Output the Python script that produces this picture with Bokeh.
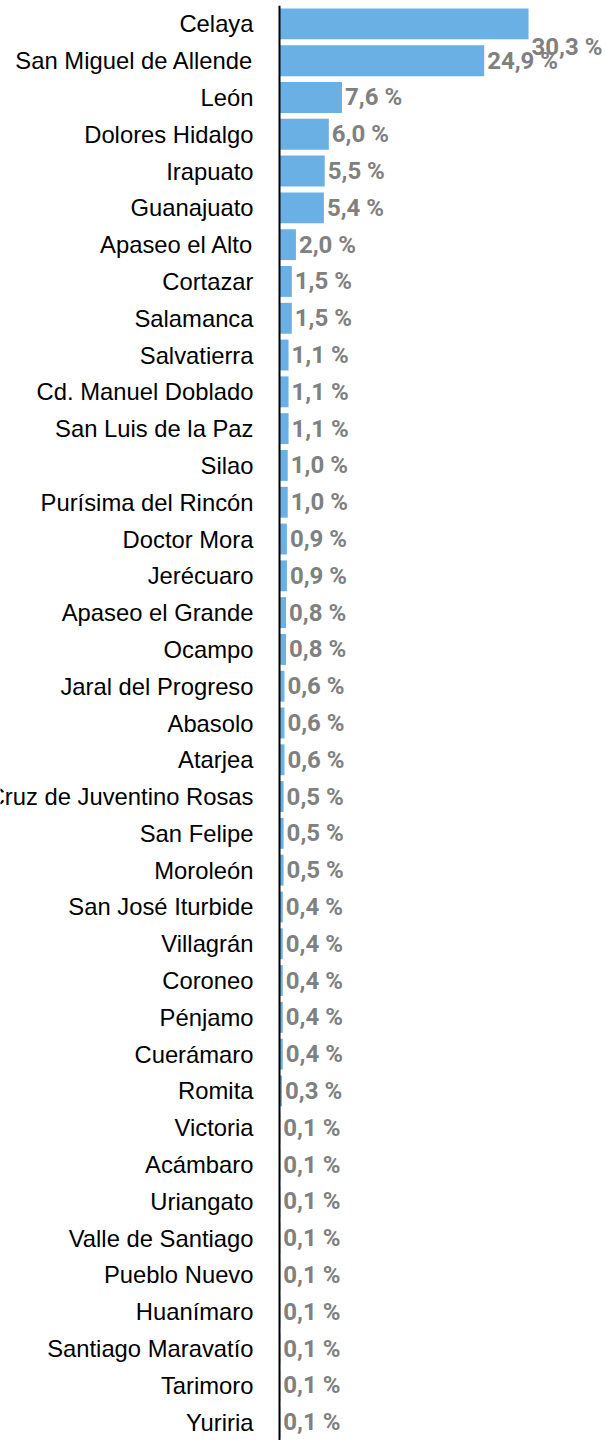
from bokeh.plotting import figure
from bokeh.models import ColumnDataSource, Span
from bokeh.core.properties import value
from bokeh.embed import file_html
from bokeh.resources import INLINE

municipios = [
    "Celaya", "San Miguel de Allende", "León", "Dolores Hidalgo", "Irapuato",
    "Guanajuato", "Apaseo el Alto", "Cortazar", "Salamanca", "Salvatierra",
    "Cd. Manuel Doblado", "San Luis de la Paz", "Silao", "Purísima del Rincón",
    "Doctor Mora", "Jerécuaro", "Apaseo el Grande", "Ocampo", "Jaral del Progreso",
    "Abasolo", "Atarjea", "Santa Cruz de Juventino Rosas", "San Felipe", "Moroleón",
    "San José Iturbide", "Villagrán", "Coroneo", "Pénjamo", "Cuerámaro", "Romita",
    "Victoria", "Acámbaro", "Uriangato", "Valle de Santiago", "Pueblo Nuevo",
    "Huanímaro", "Santiago Maravatío", "Tarimoro", "Yuriria",
]
porcentajes = [
    30.3, 24.9, 7.6, 6.0, 5.5,
    5.4, 2.0, 1.5, 1.5, 1.1,
    1.1, 1.1, 1.0, 1.0,
    0.9, 0.9, 0.8, 0.8, 0.6,
    0.6, 0.6, 0.5, 0.5, 0.5,
    0.4, 0.4, 0.4, 0.4, 0.4, 0.3,
    0.1, 0.1, 0.1, 0.1, 0.1,
    0.1, 0.1, 0.1, 0.1,
]

etiquetas = [("%.1f" % v).replace(".", ",") + " %" for v in porcentajes]
# the largest label is pushed below its bar in the reference
desplaz = [23 if i == 0 else 0 for i in range(len(porcentajes))]

src = ColumnDataSource(dict(
    m=municipios, v=porcentajes, lab=etiquetas, zero=[0] * len(municipios), dy=desplaz,
))

PX_PER_UNIT = 8.22
LEFT_PX = 279
W = 605

p = figure(
    width=W, height=1440,
    y_range=list(reversed(municipios)),
    x_range=(-LEFT_PX / PX_PER_UNIT, (W - LEFT_PX) / PX_PER_UNIT),
    output_backend="svg", toolbar_location=None,
    min_border_left=0, min_border_right=0, min_border_top=5, min_border_bottom=0,
)
p.y_range.range_padding = 0
p.outline_line_color = None
p.background_fill_color = "white"
p.border_fill_color = "white"
p.xaxis.visible = False
p.yaxis.visible = False
p.xgrid.visible = False
p.ygrid.visible = False

p.hbar(y="m", right="v", left=0, height=0.84, source=src,
       fill_color="#6AB0E5", line_color=None)

p.add_layout(Span(location=0, dimension="height", line_color="black", line_width=2))

p.text(x="v", y="m", text="lab", source=src, x_offset=3, y_offset="dy",
       text_align="left", text_baseline="middle",
       text_font=value("Roboto"), text_font_style="bold",
       text_font_size="24px", text_color="#808080")

p.text(x="zero", y="m", text="m", source=src, x_offset=-26,
       text_align="right", text_baseline="middle",
       text_font=value("Liberation Sans"), text_font_size="23.8px",
       text_color="black")

open("out.html", "w").write(file_html(p, INLINE))
